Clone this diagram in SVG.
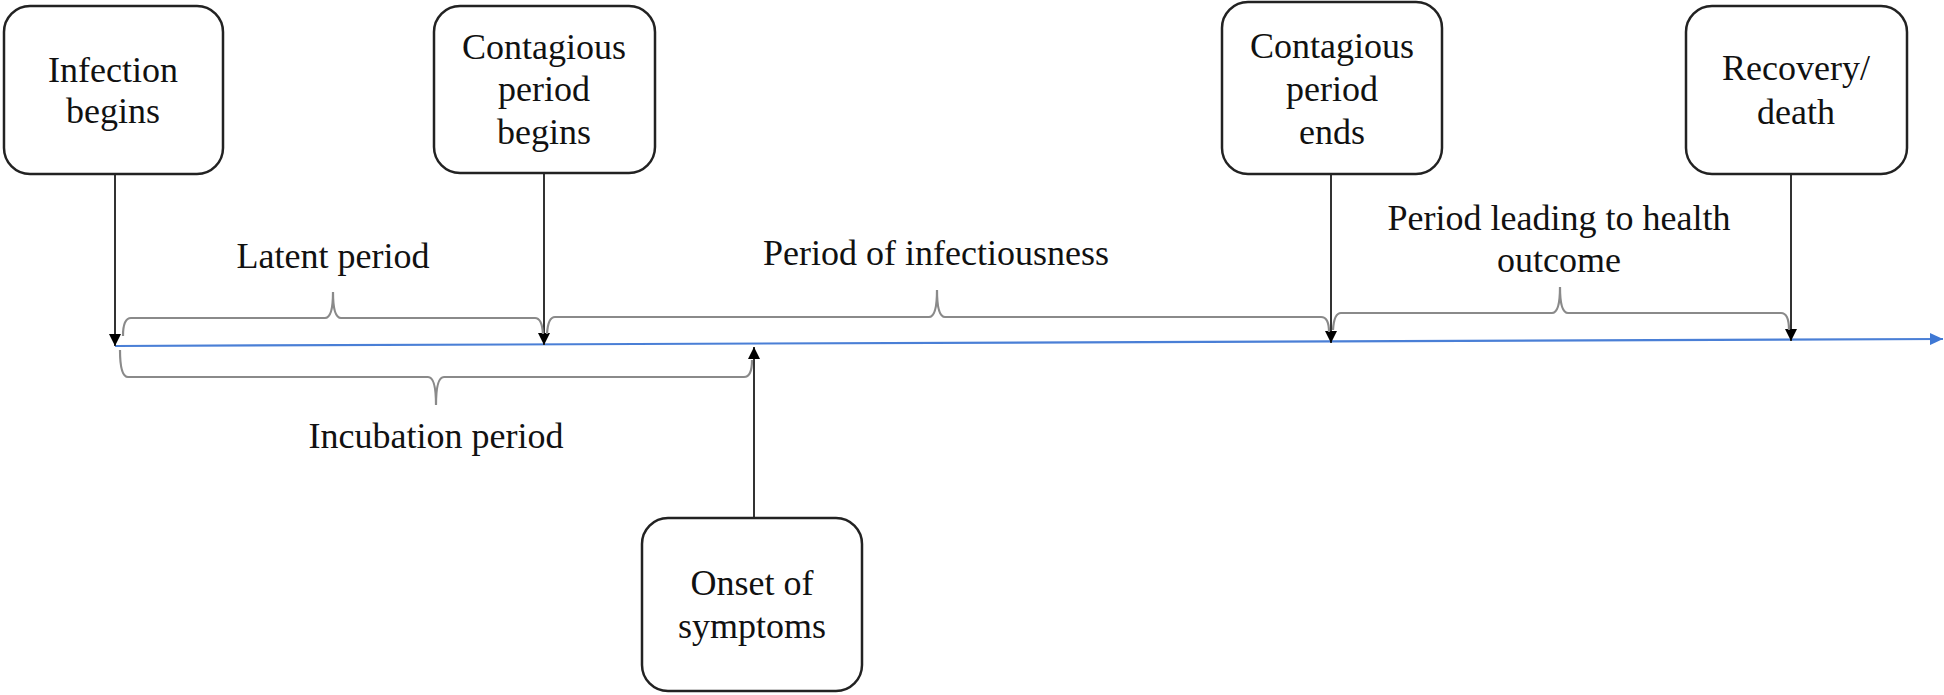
<svg xmlns="http://www.w3.org/2000/svg" width="1944" height="695" viewBox="0 0 1944 695">
<style>
.box{fill:#fff;stroke:#222;stroke-width:2.5}
.t{font-family:"Liberation Serif","Times New Roman",serif;font-size:36px;fill:#111;text-anchor:middle}
.arr{stroke:#333;stroke-width:2;fill:none;marker-end:url(#ah)}
.brace{stroke:#8a8a8a;stroke-width:2.2;fill:none}
.axis{stroke:#4a7fd6;stroke-width:2.2;fill:none;marker-end:url(#ahb)}
</style>
<defs>
<marker id="ah" markerUnits="userSpaceOnUse" markerWidth="12" markerHeight="13" refX="12" refY="6" orient="auto" viewBox="0 0 12 12">
<path d="M0,0 L12,6 L0,12 z" fill="#000"/>
</marker>
<marker id="ahb" markerUnits="userSpaceOnUse" markerWidth="13" markerHeight="12" refX="13" refY="6" orient="auto" viewBox="0 0 13 12">
<path d="M0,0 L13,6 L0,12 z" fill="#3f78d4"/>
</marker>
</defs>
<g id="connectors">
<path class="axis" d="M115,346 L1943,339"/>
<path class="arr" d="M115,174 V346"/>
<path class="arr" d="M544,173 V345"/>
<path class="arr" d="M1331,174 V343"/>
<path class="arr" d="M1791,174 V341"/>
<path class="arr" d="M754,518 V347"/>
<path class="brace" d="M123,336 Q123,318 131,318 H325 Q333,318 333,292 Q333,318 341,318 H535 Q542,318 543,334"/>
<path class="brace" d="M547,334 Q548,317 555,317 H929 Q937,317 937,290 Q937,317 945,317 H1321 Q1329,317 1329,332"/>
<path class="brace" d="M1333,330 Q1334,313 1341,313 H1552 Q1560,313 1560,287 Q1560,313 1568,313 H1781 Q1789,313 1789,330"/>
<path class="brace" d="M120,350 Q120,377 128,377 H428 Q436,377 436,405 Q436,377 444,377 H744 Q752,377 752,360"/>
</g>
<g id="n1"><rect class="box" x="4" y="6" width="219" height="168" rx="26"/>
<text class="t" x="113" y="82">Infection</text><text class="t" x="113" y="123">begins</text></g>
<g id="n2"><rect class="box" x="434" y="6" width="221" height="167" rx="26"/>
<text class="t" x="544" y="59">Contagious</text><text class="t" x="544" y="101">period</text><text class="t" x="544" y="144">begins</text></g>
<g id="n3"><rect class="box" x="1222" y="2" width="220" height="172" rx="26"/>
<text class="t" x="1332" y="58">Contagious</text><text class="t" x="1332" y="101">period</text><text class="t" x="1332" y="144">ends</text></g>
<g id="n4"><rect class="box" x="1686" y="6" width="221" height="168" rx="26"/>
<text class="t" x="1796" y="80">Recovery/</text><text class="t" x="1796" y="124">death</text></g>
<g id="n5"><rect class="box" x="642" y="518" width="220" height="173" rx="26"/>
<text class="t" x="752" y="595">Onset of</text><text class="t" x="752" y="638">symptoms</text></g>
<g id="labels">
<text class="t" x="333" y="268">Latent period</text>
<text class="t" x="936" y="265">Period of infectiousness</text>
<text class="t" x="1559" y="230">Period leading to health</text>
<text class="t" x="1559" y="272">outcome</text>
<text class="t" x="436" y="448">Incubation period</text>
</g>
</svg>
